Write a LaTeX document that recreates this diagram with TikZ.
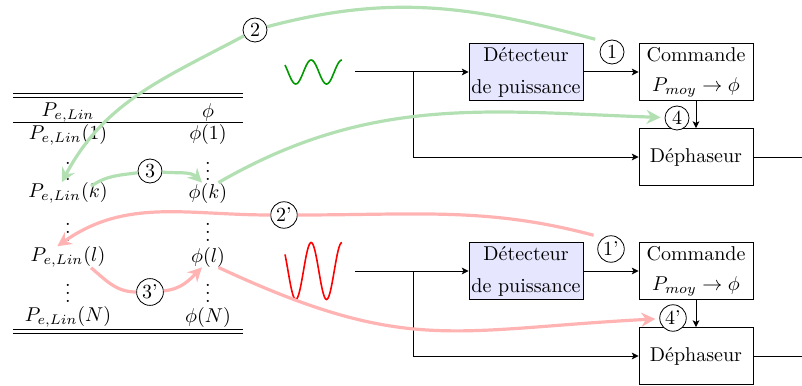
\documentclass[tikz,border=0pt]{standalone}
\usepackage{amsmath}
\usetikzlibrary{arrows.meta,calc}
\definecolor{vertclair}{RGB}{179,224,179}
\definecolor{rougeclair}{RGB}{255,179,179}
\definecolor{vertonde}{RGB}{0,153,0}
\definecolor{bleufond}{RGB}{230,230,255}
\tikzset{
  fleche/.style={-{Stealth[length=3.4pt,width=3.4pt,inset=0.8pt]}, line width=0.5pt},
  bloc/.style={draw, fill=#1, minimum width=57pt, minimum height=28.5pt,
    inner sep=1pt, align=center},
  bloc/.default=white,
  num/.style={circle, draw, fill=white, inner sep=1pt, minimum size=12pt},
  trait/.style={line width=1.6pt, color=#1},
  trait/.default=vertclair,
  lien/.style={trait=#1, -{Stealth[length=7pt,width=7pt]}},
  lien/.default=vertclair,
  cell/.style={inner sep=0pt},
}

\begin{document}
\begin{tikzpicture}[x=0.5pt,y=-0.5pt]
  \useasboundingbox (0,0) rectangle (802,385);
  % tableau P -> phi
  \foreach \y in {93,97,122,329,333} \draw (13,\y) -- (243,\y);
  \node[cell] (tete) at (68,113) {$P_{e,Lin}$};
  \node[cell] (phitete) at (208,113) {$\phi$};
  \foreach \nm/\y in {1/135,k/193,l/257,N/317} {
    \node[cell] (p\nm) at (68,\y) {$P_{e,Lin}(\nm)$};
    \node[cell] (phi\nm) at (208,\y) {$\phi(\nm)$};
  }
  \foreach \y [count=\i] in {165,226,287} {
    \node[cell] (dp\i) at (68,\y) {$\vdots$};
    \node[cell] (dphi\i) at (208,\y) {$\vdots$};
  }
  % les deux chaines
  \foreach \dy/\s/\amp/\col in {0/a/12/vertonde,199/b/28.5/red} {
    \draw[\col, line width=0.8pt, smooth, samples=60, domain=0.95:12.566]
      plot ({285+(\x-0.95)*4.9}, {72+\dy-\amp*cos(\x r)});
    \coordinate (in\s) at (355,{72+\dy});
    \coordinate (br\s) at (413,{72+\dy});
    \coordinate (out\s) at (802,{157+\dy});
    \node[bloc=bleufond] (det\s) at (526,{72+\dy}) {Détecteur\\[4pt]de puissance};
    \node[bloc] (cmd\s) at (696,{72+\dy}) {Commande\\[3pt]$P_{moy}\rightarrow\phi$};
    \node[bloc] (dep\s) at (696,{157+\dy}) {Déphaseur};
    \draw[fleche] (in\s) -- (det\s);
    \draw[fleche] (br\s) |- (dep\s);
    \draw[fleche] (det\s) -- (cmd\s);
    \draw[fleche] (cmd\s) -- (dep\s);
    \draw (dep\s) -- (out\s);
  }
  % etapes
  \node[num] (c1) at (612,52) {1};
  \node[num] (c2) at (255,30) {2};
  \node[num] (c3) at (150,171) {3};
  \node[num] (c4) at (677,118) {4};
  \node[num] (c1p) at (611,249) {1'};
  \node[num] (c2p) at (284,215) {2'};
  \node[num] (c3p) at (150,292) {3'};
  \node[num] (c4p) at (673,318) {4'};
  % chemin vert
  \draw[trait, shorten <=5pt] (c1.125) to[out=165,in=15] (c2);
  \draw[lien] (c2) to[out=208,in=62] (pk.120);
  \draw[trait] ([yshift=-2pt]pk.25) to[out=35,in=188] (c3);
  \draw[lien] (c3) to[out=-5,in=135] (phik.120);
  \draw[lien, shorten >=2pt] (phik.45) to[out=30,in=178] (c4);
  % chemin rouge
  \draw[trait=rougeclair, shorten <=5pt] (c1p.125) to[out=165,in=0] (c2p);
  \draw[lien=rougeclair] (c2p) to[out=180,in=35] (pl.135);
  \draw[trait=rougeclair] (pl.-25) to[out=-40,in=180] (c3p);
  \draw[lien=rougeclair] (c3p) to[out=5,in=-135] (phil.-120);
  \draw[lien=rougeclair, shorten >=2pt] (phil.-45) to[out=-25,in=183,looseness=1.2] (c4p);
\end{tikzpicture}
\end{document}
